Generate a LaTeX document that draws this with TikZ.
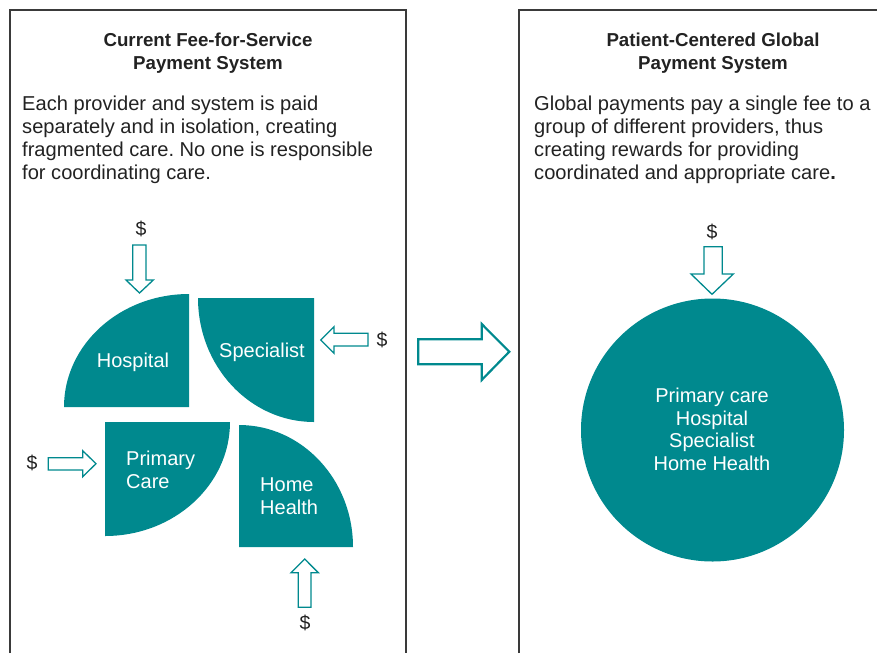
\documentclass[tikz,border=0pt]{standalone}
\usepackage{fontspec}
\setmainfont{Liberation Sans}
\frenchspacing
\begin{document}
\begin{tikzpicture}[x=1pt,y=-1pt]
  \definecolor{teal}{HTML}{00898E}
  \definecolor{frame}{HTML}{3A3A3A}
  \definecolor{ink}{HTML}{222222}
  \tikzset{
    panel/.style={draw=frame,line width=2pt},
    sector/.style={fill=teal,draw=none},
    blockarrow/.style={draw=teal,fill=white,line width=1.3pt,line join=miter},
    bigarrow/.style={draw=teal,fill=white,line width=2.2pt,line join=miter},
    title/.style={font=\fontsize{18.7}{23}\selectfont\bfseries,text=ink,align=center,inner sep=0pt},
    body/.style={font=\fontsize{20.1}{23}\selectfont,text=ink,align=left,inner sep=0pt,anchor=north west},
    label/.style={font=\fontsize{20}{22.5}\selectfont,text=white,inner sep=0pt},
    money/.style={font=\fontsize{19.5}{20}\selectfont,text=ink,inner sep=0pt},
  }
  \useasboundingbox (0,0) rectangle (877,653);

  % panel frames (open at the bottom)
  \draw[panel] (10,653) -- (10,10) -- (406,10) -- (406,653);
  \draw[panel] (519,653) -- (519,10) -- (877,10);

  % left panel texts
  \node[title] (ltitle) at (208,53) {Current Fee-for-Service\\Payment System};
  \node[body] (ltext) at (22,96) {Each provider and system is paid\\separately and in isolation, creating\\fragmented care. No one is responsible\\for coordinating care.};

  % right panel texts
  \node[title] (rtitle) at (713,53) {Patient-Centered Global\\Payment System};
  \node[body] (rtext) at (534,96) {Global payments pay a single fee to a\\group of different providers, thus\\creating rewards for providing\\coordinated and appropriate care\textbf{.}};

  % provider sectors
  \fill[sector] (189,407) -- (64,407) arc[start angle=180,end angle=270,x radius=125,y radius=113] -- cycle;
  \fill[sector] (314,298) -- (198,298) arc[start angle=180,end angle=90,x radius=116,y radius=124] -- cycle;
  \fill[sector] (105,422) -- (230,422) arc[start angle=0,end angle=90,x radius=125,y radius=114] -- cycle;
  \fill[sector] (239,547) -- (239,425) arc[start angle=270,end angle=360,x radius=114,y radius=122] -- cycle;

  \node[label] (hosp) at (133,362) {Hospital};
  \node[label] (spec) at (262,352) {Specialist};
  \node[label,align=left,anchor=west] (prim) at (126,470) {Primary\\Care};
  \node[label,align=left,anchor=west] (home) at (260,496) {Home\\Health};

  % separate payments
  \node[money] (d1) at (141,229) {\$};
  \node[money] (d2) at (382,340) {\$};
  \node[money] (d3) at (32,463) {\$};
  \node[money] (d4) at (305,623) {\$};

  \draw[blockarrow] (132.7,245) -- (146,245) -- (146,280) -- (153.3,280) -- (139.5,293) -- (126,280) -- (132.7,280) -- cycle;
  \draw[blockarrow] (368,333.3) -- (368,346) -- (334,346) -- (334,353.3) -- (320.7,340) -- (334,326.7) -- (334,333.3) -- cycle;
  \draw[blockarrow] (48.3,457.7) -- (82.7,457.7) -- (82.7,450.7) -- (96,463.7) -- (82.7,476.7) -- (82.7,470) -- (48.3,470) -- cycle;
  \draw[blockarrow] (298.3,607.3) -- (298.3,572.7) -- (291,572.7) -- (304.7,559) -- (318.3,572.7) -- (311,572.7) -- (311,607.3) -- cycle;

  % transition arrow between panels
  \draw[bigarrow] (418.3,339.3) -- (481.7,339.3) -- (481.7,324) -- (509.3,351.7) -- (481.7,380) -- (481.7,364.3) -- (418.3,364.3) -- cycle;

  % global payment
  \node[money] (d5) at (712,232) {\$};
  \draw[blockarrow] (704,246.7) -- (722.3,246.7) -- (722.3,274) -- (733.3,274) -- (712,294.3) -- (691,274) -- (704,274) -- cycle;
  \node[circle,fill=teal,minimum size=263pt,inner sep=0pt] (global) at (712.5,430) {};
  \node[label,align=center] (glabel) at (712,429.5) {Primary care\\Hospital\\Specialist\\Home Health};
\end{tikzpicture}
\end{document}
